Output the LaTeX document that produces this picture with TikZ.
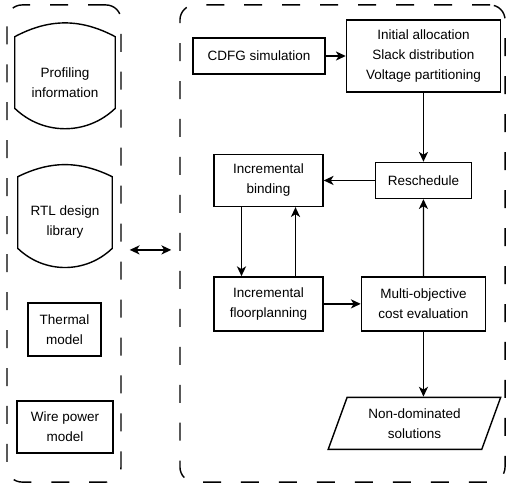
\documentclass[tikz,border=0pt]{standalone}
\usepackage{fontspec}
\setmainfont{Liberation Sans}
\usetikzlibrary{arrows.meta,positioning,calc,shapes.geometric}

\begin{document}
\begin{tikzpicture}[
    x=0.025cm, y=-0.025cm,
    group/.style  = {rectangle, rounded corners=0.375cm, draw,
                     line width=1pt, dash pattern=on 12.8pt off 14.2pt},
    box/.style    = {rectangle, draw, line width=1pt, align=center,
                     font=\fontsize{9.6pt}{14.2pt}\selectfont},
    store/.style  = {rectangle, inner sep=0pt, minimum height=1.775cm},
    txt/.style    = {align=center, font=\fontsize{9.6pt}{14.2pt}\selectfont},
    outline/.style= {draw, line width=1pt},
    sol/.style    = {trapezium, trapezium left angle=70,
                     trapezium right angle=110, draw, line width=1pt,
                     minimum width=3.85cm, minimum height=1.3cm, align=center,
                     font=\fontsize{9.6pt}{14.2pt}\selectfont},
    arr/.style    = {-{Stealth[length=7pt, width=6.5pt, inset=2pt]},
                     line width=1pt},
    dbl/.style    = {{Stealth[length=7pt, width=6.5pt, inset=2pt]}-{Stealth[length=7pt, width=6.5pt, inset=2pt]},
                     line width=1pt},
]
\useasboundingbox (0,0) rectangle (506,489);

% ─── Containers ──────────────────────────────────────────────────────────
\node[group, minimum width=2.85cm, minimum height=11.925cm] (lib) at (64,243.5) {};
\node[group, minimum width=8.125cm, minimum height=11.925cm] (flow) at (342.5,243.5) {};

% ─── Inputs (left) ───────────────────────────────────────────────────────
\node[store, minimum width=2.5cm,
      label={[txt, yshift=-0.26cm]center:Profiling\\information}] (prof) at (65,72.5) {};
\draw[outline] (prof.north west) to[bend left=28] (prof.north east)
    -- (prof.south east) to[bend left=44] (prof.south west) -- cycle;

\node[store, minimum width=2.35cm,
      label={[txt, yshift=-0.24cm]center:RTL design\\library}] (rtl) at (65,212.5) {};
\draw[outline] (rtl.north west) to[bend left=26] (rtl.north east)
    -- (rtl.south east) to[bend left=44] (rtl.south west) -- cycle;

\node[box, minimum width=1.825cm, minimum height=1.325cm] (therm) at (64.5,329.5)
    {Thermal\\model};
\node[box, minimum width=2.4cm, minimum height=1.3cm] (wire) at (65,427)
    {Wire power\\model};

\draw[dbl, shorten <=0.2cm, shorten >=0.2cm]
    ([yshift=-0.16cm]lib.east) -- ([yshift=-0.16cm]flow.west);

% ─── Synthesis flow (right) ──────────────────────────────────────────────
\node[box, minimum width=3.3cm, minimum height=0.9cm] (cdfg) at (259,56)
    {CDFG simulation};
\node[box, minimum width=3.85cm, minimum height=1.8cm, right=0.5cm of cdfg] (init)
    {Initial allocation\\Slack distribution\\Voltage partitioning};
\draw[arr] (cdfg) -- (init);

\node[box, minimum width=2.4cm, minimum height=0.9cm, below=1.725cm of init] (resched)
    {Reschedule};
\draw[arr] (init) -- (resched);

\node[box, minimum width=2.725cm, minimum height=1.3cm, left=1.275cm of resched] (bind)
    {Incremental\\binding};
\draw[arr] (resched) -- (bind);

\node[box, minimum width=2.725cm, minimum height=1.35cm, below=1.725cm of bind] (floor)
    {Incremental\\floorplanning};
\draw[arr] ([xshift=-0.675cm]bind.south) -- ([xshift=-0.675cm]floor.north);
\draw[arr] ([xshift=0.675cm]floor.north) -- ([xshift=0.675cm]bind.south);

\node[box, minimum width=3.1cm, minimum height=1.35cm, right=0.925cm of floor] (cost)
    {Multi-objective\\cost evaluation};
\draw[arr] (floor) -- (cost);
\draw[arr] (cost) -- (resched);

% Output
\node[sol, below=1.625cm of cost, xshift=-0.225cm] (nondom)
    {Non-dominated\\solutions};
\draw[arr] (cost.south) -- (cost.south |- nondom.north);

\end{tikzpicture}
\end{document}
